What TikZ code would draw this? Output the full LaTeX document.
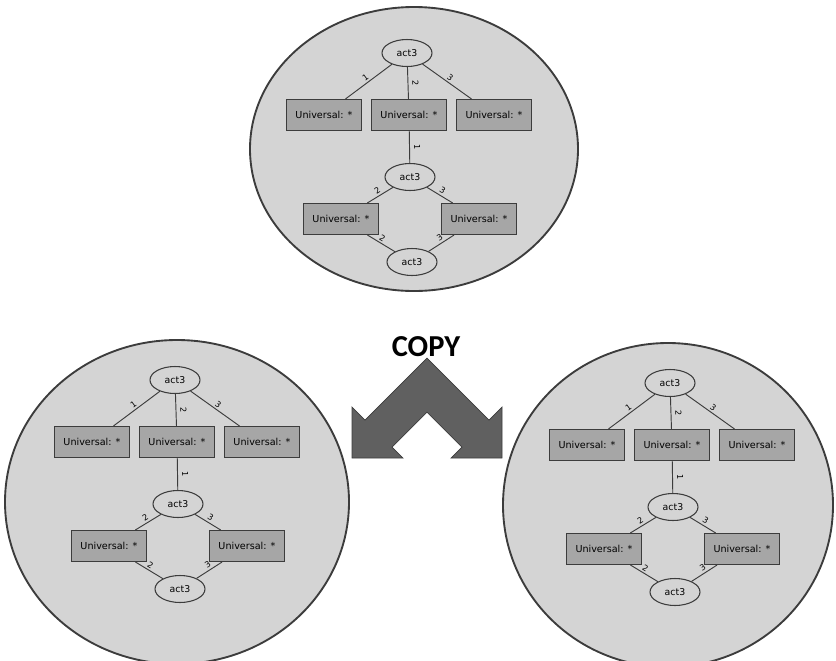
\documentclass[tikz,border=0pt]{standalone}
\usepackage{fontspec}
\setmainfont{DejaVu Sans}
\newfontfamily\copyfont{Carlito}
\usetikzlibrary{shapes.geometric}
\definecolor{bubblegray}{RGB}{212,212,212}
\definecolor{boxgray}{RGB}{166,166,166}
\definecolor{arrowgray}{RGB}{96,96,96}
\definecolor{linegray}{RGB}{60,60,60}
\tikzset{
  bubble/.style={draw=linegray, line width=1.6pt, fill=bubblegray},
  univ/.style={draw=linegray, line width=0.9pt, fill=boxgray, minimum width=2.25cm,
    minimum height=0.93cm, inner sep=0pt, font=\fontsize{8.2}{9}\selectfont},
  actnode/.style={ellipse, draw=linegray, line width=0.9pt, fill=bubblegray,
    minimum width=1.5cm, minimum height=0.81cm, inner sep=0pt, font=\fontsize{8}{9}\selectfont},
  relline/.style={draw=linegray, line width=0.8pt},
  rellab/.style={font=\fontsize{7}{8}\selectfont, sloped, above, inner sep=1.5pt},
}
\begin{document}
\begin{tikzpicture}[x=0.03cm, y=-0.03cm]
            \useasboundingbox (0,0) rectangle (836,660);
            
            % Drawing the three circles
            \draw [bubble] (414,149) ellipse [x radius=164, y radius=142];
            \draw [bubble] (177,502) ellipse [x radius=172, y radius=162];
            \draw [bubble] (668,505) ellipse [x radius=165, y radius=162];
            
            % Marking COPY
            \node [font=\copyfont\bfseries\fontsize{26}{28}\selectfont] (copy) at (426,347) {COPY};
            
            % Drawing the split arrow
            \filldraw [fill=arrowgray, draw=linegray, line width=0.6pt]
              (427,358) -- (489,420) -- (502,407) -- (502,458) -- (451,458) -- (462,447)
              -- (427,412) -- (392,447) -- (403,458) -- (352,458) -- (352,407) -- (365,420) -- cycle;
            
            % Drawing graph t (top), l (left) and r (right)
            \foreach \g/\gx/\gy in {t/407/53, l/175/380, r/670/383} {
              \begin{scope}[shift={(\gx,\gy)}]
                \node [actnode] (\g-a1) at (0,0) {act3};
                \node [univ] (\g-b1) at (-83,62) {Universal: *};
                \node [univ] (\g-b2) at (2,62) {Universal: *};
                \node [univ] (\g-b3) at (87,62) {Universal: *};
                \node [actnode] (\g-a2) at (3,124) {act3};
                \node [univ] (\g-c1) at (-66,166) {Universal: *};
                \node [univ] (\g-c2) at (72,166) {Universal: *};
                \node [actnode] (\g-a3) at (5,209) {act3};
                
                \draw [relline] (\g-a1) -- node [rellab] {1} (\g-b1);
                \draw [relline] (\g-a1) -- node [rellab, inner sep=3.5pt] {2} (\g-b2);
                \draw [relline] (\g-a1) -- node [rellab] {3} (\g-b3);
                \draw [relline] (\g-b2) -- node [rellab, inner sep=3.5pt] {1} (\g-a2);
                \draw [relline] (\g-a2) -- node [rellab] {2} (\g-c1);
                \draw [relline] (\g-a2) -- node [rellab] {3} (\g-c2);
                \draw [relline] (\g-c1) -- node [rellab, pos=0.45] {2} (\g-a3);
                \draw [relline] (\g-c2) -- node [rellab, pos=0.45] {3} (\g-a3);
              \end{scope}
            }
        \end{tikzpicture}
\end{document}
